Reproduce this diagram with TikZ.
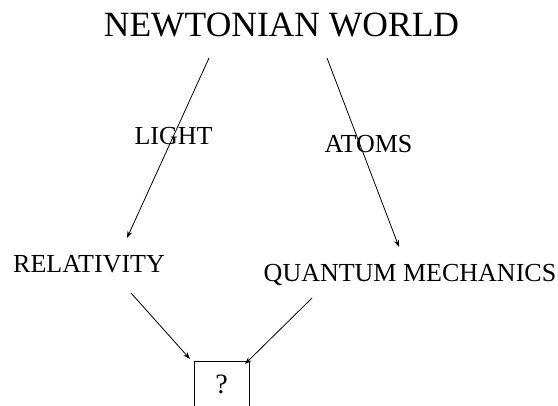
\documentclass[tikz,border=0pt]{standalone}
\usepackage{fontspec}
\setmainfont{Liberation Serif}
\usetikzlibrary{arrows.meta}
\tikzset{
  lbl/.style={inner sep=0pt, anchor=base, font=\fontsize{26bp}{30bp}\selectfont},
  ttl/.style={inner sep=0pt, anchor=base, font=\fontsize{35.5bp}{40bp}\selectfont},
  conn/.style={line width=0.8bp, -{Stealth[length=7bp,width=5bp]}},
  qbox/.style={draw, line width=0.8bp}
}
\begin{document}
\begin{tikzpicture}[x=1bp,y=-1bp]
\useasboundingbox (0,0) rectangle (558,405);
\clip (0,0) rectangle (558,405);
\fill[white] (0,0) rectangle (558,405);
\node[ttl] (nw) at (281.5,36.5) {NEWTONIAN WORLD};
\node[lbl] (rel) at (89,272) {RELATIVITY};
\node[lbl] (qm) at (410,281.5) {QUANTUM MECHANICS};
\node[lbl] (light) at (173.5,144.5) {LIGHT};
\node[lbl] (atoms) at (368.5,152.5) {ATOMS};
\draw[qbox] (194,361) rectangle (249,420);
\node[lbl, font=\fontsize{28bp}{32bp}\selectfont] (q) at (221.5,393.5) {?};
\coordinate (nwL) at (209,58);
\coordinate (nwR) at (327,58);
\coordinate (relT) at (127,238);
\coordinate (qmT) at (399,247);
\coordinate (relB) at (131,293);
\coordinate (qmB) at (312,298);
\coordinate (qL) at (190,359);
\coordinate (qR) at (245,364);
\draw[conn] (nwL) -- (relT);
\draw[conn] (nwR) -- (qmT);
\draw[conn] (relB) -- (qL);
\draw[conn] (qmB) -- (qR);
\end{tikzpicture}
\end{document}
